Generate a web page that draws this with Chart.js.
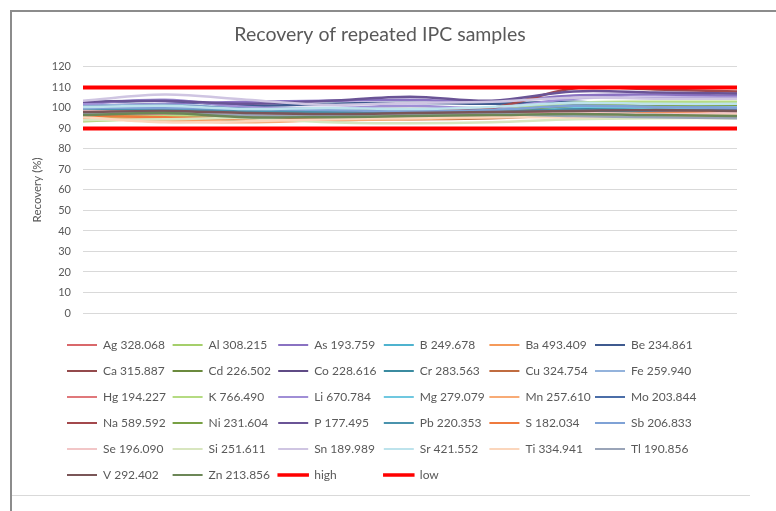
<!DOCTYPE html>
<html><head><meta charset="utf-8">
<script src="https://cdn.jsdelivr.net/npm/chart.js@4"></script>
<style>
html,body{margin:0;padding:0;background:#fff;}
#wrap{position:relative;width:776px;height:511px;overflow:hidden;background:#fff;}
canvas{position:absolute;left:0;top:0;}
.frame{position:absolute;pointer-events:none;}
</style></head><body>
<div id="wrap">
<canvas id="c" width="776" height="511"></canvas>
<div class="frame" style="left:10px;top:10px;width:2px;height:501px;background:#8c8c8c"></div>
<div class="frame" style="left:10px;top:10px;width:766px;height:2px;background:#8c8c8c"></div>
<div class="frame" style="left:12px;top:495px;width:738px;height:1px;background:#d9d9d9"></div>
</div>
<script>
// ---- data ----
const categories = ['1', '2', '3', '4', '5', '6', '7', '8', '9'];
const yTicks = [0, 10, 20, 30, 40, 50, 60, 70, 80, 90, 100, 110, 120];

const Ag = [99, 100, 98.5, 97, 96.5, 97, 99, 100, 100.5];
const Al = [93.5, 95, 96, 97, 97.5, 98, 101, 102, 102];
const As = [101, 102, 103, 103.5, 104, 103, 106, 106.5, 106];
const B  = [98, 98.5, 99, 99, 98, 99.5, 101.5, 101, 101];
const Ba = [96, 94, 94.5, 95.5, 96, 96.5, 97, 97.5, 97];
const Be = [102.5, 103.5, 101, 102, 102.5, 102, 103, 101, 100.5];
const Ca = [97, 97.5, 96, 96.5, 97, 97.5, 99, 99.5, 99];
const Cd = [95, 96.5, 94, 94, 95, 95.5, 97.5, 98, 98.5];
const Co = [98.5, 99, 97, 97.5, 98, 98.5, 99.5, 99, 99.5];
const Cr = [100, 100.5, 99, 98.5, 98, 98, 100, 99, 98.5];
const Cu = [96.5, 97, 95.5, 95, 94.5, 95, 96.5, 96, 96];
const Fe = [101, 101.5, 100, 99.5, 99, 100, 102, 101.5, 101];
const Hg = [98, 97, 96, 95.5, 96, 97, 98, 98.5, 98];
const K  = [95.5, 96, 97, 98, 98.5, 99, 102.5, 103, 103];
const Li = [102, 104, 100.5, 100, 101, 100, 104.5, 105, 105];
const Mg = [99.5, 100, 98, 97.5, 97, 98, 100.5, 100, 100];
const Mn = [95, 93.5, 93, 94, 94.5, 95.5, 96, 96.5, 96];
const Mo = [100.5, 101, 99.5, 98, 97.5, 98.5, 99, 98, 97.5];
const Na = [99.5, 98.5, 97.5, 98.5, 99, 100, 109.5, 109, 108];
const Ni = [97.5, 98, 96.5, 97, 97.5, 98.5, 101, 101.5, 101.5];
const P  = [103, 103.5, 102, 103.5, 105.5, 103.5, 108, 107.5, 107];
const Pb = [99, 99.5, 98.5, 98, 97.5, 98, 99, 97.5, 97];
const S  = [96, 95.5, 94.5, 95, 95.5, 96, 96.5, 97.5, 98];
const Sb = [100, 100, 99.5, 99, 98.5, 99, 101, 100.5, 100];
const Se = [98.5, 98, 97, 96.5, 96, 96.5, 97.5, 97, 97.5];
const Si = [94, 94.5, 95, 93, 92.5, 93, 94.5, 95, 95];
const Sn = [103.5, 106.5, 104, 101.5, 102.5, 103, 105, 104.5, 104.5];
const Sr = [100.5, 101, 99.5, 100, 99.5, 100.5, 102.5, 102, 102];
const Ti = [95.5, 93, 93.5, 94.5, 95, 95.5, 95.5, 96, 96.5];
const Tl = [97, 97.5, 96.5, 96, 96.5, 97, 96, 95.5, 95];
const V  = [98, 98.5, 97.5, 97, 97.5, 98, 98.5, 99, 98.5];
const Zn = [96.5, 97.5, 95.5, 95.5, 96, 96.5, 97, 96.5, 96];
const high = [110, 110, 110, 110, 110, 110, 110, 110, 110];
const low  = [90, 90, 90, 90, 90, 90, 90, 90, 90];

const seriesLabels = [
  'Ag 328.068','Al 308.215','As 193.759','B 249.678','Ba 493.409','Be 234.861',
  'Ca 315.887','Cd 226.502','Co 228.616','Cr 283.563','Cu 324.754','Fe 259.940',
  'Hg 194.227','K 766.490','Li 670.784','Mg 279.079','Mn 257.610','Mo 203.844',
  'Na 589.592','Ni 231.604','P 177.495','Pb 220.353','S 182.034','Sb 206.833',
  'Se 196.090','Si 251.611','Sn 189.989','Sr 421.552','Ti 334.941','Tl 190.856',
  'V 292.402','Zn 213.856','high','low'
];
const seriesValues = [
  Ag, Al, As, B, Ba, Be, Ca, Cd, Co, Cr, Cu, Fe, Hg, K, Li, Mg, Mn, Mo,
  Na, Ni, P, Pb, S, Sb, Se, Si, Sn, Sr, Ti, Tl, V, Zn, high, low
];

// ---- styles ----
const seriesColors = [
  '#d9686b','#a5cf6b','#8a72c2','#4fb3cf','#f59a5a','#3f5a8f',
  '#944a4c','#6b8a3e','#5f4b85','#3b8ba0','#c06c40','#94b3dc',
  '#e0787b','#b5db82','#a08ed6','#70c8e0','#f8ab76','#4b6ea8',
  '#a3484c','#78a044','#6a5496','#4a93ad','#ef7a3e','#7fa2d6',
  '#f2c6c7','#d8e6bf','#cfc5e2','#bde3ec','#fbd6bc','#9aa4b8',
  '#7a5658','#6c8757','#ff0000','#ff0000'
];
const seriesWidths = seriesLabels.map(l => (l === 'high' || l === 'low') ? 4 : 2.5);

const FONT = 'Lato, "Open Sans", sans-serif';
const TEXT = '#595959';
const LEGEND_COL_TEXT = 55.6;
const LEGEND_SHIFT = 30;

const legendGrid = {
  id: 'legendGrid',
  beforeInit(chart) {
    const ctx = chart.ctx;
    const orig = ctx.measureText.bind(ctx);
    const names = new Set(seriesLabels);
    ctx.measureText = function (t) {
      if (names.has(t)) return { width: LEGEND_COL_TEXT };
      return orig(t);
    };
  },
  afterLayout(chart) {
    if (chart.legend) {
      chart.legend.left += LEGEND_SHIFT;
      chart.legend.right += LEGEND_SHIFT;
    }
  }
};

const datasets = seriesLabels.map((name, i) => ({
  label: name,
  data: seriesValues[i],
  borderColor: seriesColors[i],
  backgroundColor: seriesColors[i],
  borderWidth: seriesWidths[i],
  pointRadius: 0,
  pointHoverRadius: 0,
  tension: 0.35,
  fill: false,
  order: -i
}));

new Chart(document.getElementById('c'), {
  type: 'line',
  data: { labels: categories, datasets },
  plugins: [legendGrid],
  options: {
    responsive: false,
    animation: false,
    devicePixelRatio: 1,
    layout: { padding: { left: 23, right: 39, top: 12, bottom: 20 } },
    plugins: {
      tooltip: { enabled: false },
      title: {
        display: true,
        text: 'Recovery of repeated IPC samples',
        color: TEXT,
        font: { family: FONT, size: 19.5, weight: 'normal' },
        padding: { top: 11, bottom: 20.5 }
      },
      legend: {
        position: 'bottom',
        align: 'start',
        labels: {
          color: TEXT,
          font: { family: FONT, size: 12 },
          boxWidth: 30,
          boxHeight: 2,
          padding: 14,
          generateLabels(chart) {
            return chart.data.datasets.map((ds, i) => ({
              text: ds.label,
              fillStyle: ds.borderColor,
              strokeStyle: ds.borderColor,
              lineWidth: ds.borderWidth > 3 ? 1.5 : 0,
              hidden: false,
              datasetIndex: i,
              fontColor: TEXT
            }));
          }
        }
      }
    },
    scales: {
      x: {
        grid: { display: false, drawTicks: false },
        border: { display: false },
        ticks: { display: false },
        afterFit(s) { s.height = 12; }
      },
      y: {
        min: 0, max: 120,
        afterBuildTicks(s) { s.ticks = yTicks.map(v => ({ value: v })); },
        grid: { color: '#d9d9d9', drawTicks: false, lineWidth: 1 },
        border: { display: false },
        ticks: { color: TEXT, font: { family: FONT, size: 11 }, padding: 12 },
        title: {
          display: true,
          text: 'Recovery (%)',
          color: TEXT,
          font: { family: FONT, size: 11.5 },
          padding: { top: 7, bottom: 0 }
        },
        afterFit(s) { s.width = 60; }
      }
    }
  }
});
</script>
</body></html>
